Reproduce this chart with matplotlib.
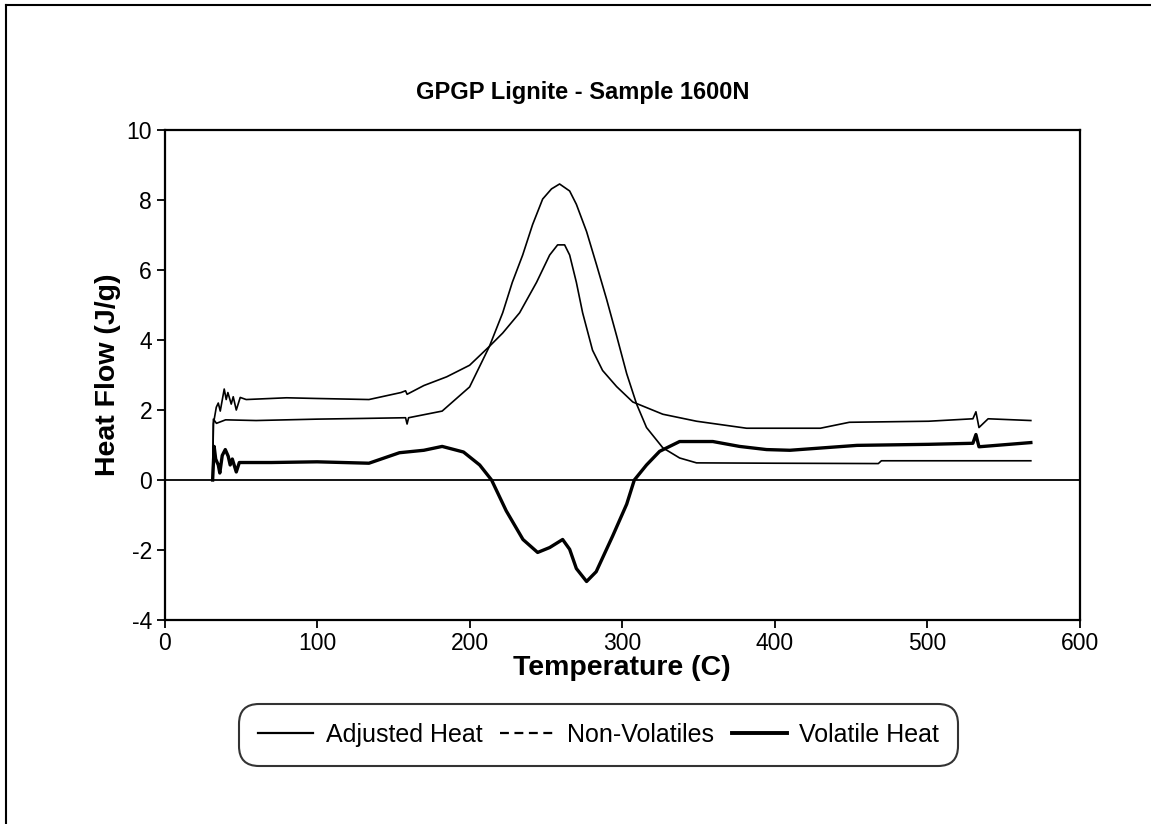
import numpy as np
import matplotlib.pyplot as plt
from matplotlib.lines import Line2D

# temperature (C) / heat flow (J/g)
adj_t = [31.5, 32, 33.9, 35.2, 36.5, 39.1, 40.4, 41.5, 43.7, 45, 47, 49.6, 53.5, 80, 100,
         134, 155, 158, 159, 170, 185, 200, 213, 221.7, 232.8, 243.9, 252.5, 257.7, 262.3,
         265.6, 270, 274.1, 280.6, 287.2, 296.4, 307, 326.7, 348.8, 381.6, 430, 449, 501,
         530, 532, 534, 540, 568]
adj_q = [0, 1.6, 2.08, 2.2, 1.97, 2.6, 2.3, 2.5, 2.17, 2.38, 2.0, 2.36, 2.3, 2.35, 2.33,
         2.3, 2.5, 2.55, 2.45, 2.7, 2.95, 3.28, 3.82, 4.2, 4.78, 5.65, 6.43, 6.72, 6.72,
         6.43, 5.65, 4.78, 3.71, 3.13, 2.67, 2.23, 1.88, 1.68, 1.48, 1.48, 1.65, 1.68,
         1.75, 1.95, 1.5, 1.75, 1.7]

nv_t = [31.5, 32, 34, 40, 60, 100, 130, 158, 159, 160, 182, 200, 213, 221.7, 228, 234.8,
        241.3, 247.9, 253.7, 259, 265.6, 270, 276.7, 283.3, 289.8, 296.4, 303, 309.5,
        316, 326.7, 337.7, 348.8, 400, 468, 470, 530, 568]
nv_q = [0, 1.74, 1.62, 1.72, 1.70, 1.74, 1.76, 1.78, 1.6, 1.78, 1.97, 2.66, 3.82, 4.78,
        5.65, 6.43, 7.3, 8.03, 8.32, 8.46, 8.26, 7.88, 7.1, 6.14, 5.17, 4.12, 3.04, 2.17,
        1.5, 0.92, 0.63, 0.49, 0.48, 0.47, 0.55, 0.55, 0.55]

vol_t = [31.5, 32.5, 33.5, 35.2, 36.2, 37.8, 39.8, 41.7, 43, 44.4, 47, 49, 52.3, 70, 100,
         134, 154, 170, 182, 196, 206.6, 214.4, 224, 235, 244.6, 252.5, 261, 265.6, 270,
         276.7, 283, 293.8, 303, 308, 316, 324.6, 337.7, 359.5, 377, 394.7, 410, 454, 501,
         530, 532, 534, 568]
vol_q = [0, 0.96, 0.6, 0.43, 0.2, 0.7, 0.87, 0.68, 0.43, 0.6, 0.23, 0.5, 0.5, 0.5, 0.52,
         0.48, 0.78, 0.85, 0.96, 0.8, 0.43, 0, -0.88, -1.7, -2.07, -1.93, -1.7, -1.98, -2.53,
         -2.9, -2.62, -1.6, -0.69, 0, 0.43, 0.82, 1.1, 1.1, 0.96, 0.87, 0.85, 0.99, 1.02,
         1.05, 1.3, 0.95, 1.07]

plt.rcParams['font.family'] = ['Liberation Sans', 'DejaVu Sans']
plt.rcParams['axes.unicode_minus'] = False

fig = plt.figure(figsize=(11.51, 8.24), dpi=100)
ax = fig.add_axes([0.143, 0.2476, 0.795, 0.5945])

ax.plot(adj_t, adj_q, color='black', lw=1.2)
ax.plot(nv_t, nv_q, color='black', lw=1.2)
ax.plot(vol_t, vol_q, color='black', lw=2.4)
ax.axhline(0, color='black', lw=1.3)

ax.set_xlim(0, 600)
ax.set_ylim(-4, 10)
ax.set_xticks(range(0, 601, 100))
ax.set_yticks(range(-4, 11, 2))
ax.tick_params(direction='out', length=6, width=1.3, labelsize=16.5, pad=3)
for s in ax.spines.values():
    s.set_linewidth(1.6)

ax.set_xlabel('Temperature (C)', fontsize=20.5, fontweight='bold', labelpad=0)
ax.set_ylabel('Heat Flow (J/g)', fontsize=20.5, fontweight='bold', labelpad=4)
fig.text(0.506, 0.888, 'GPGP Lignite - Sample 1600N', ha='center', va='center',
         fontsize=17, fontweight='bold')

# legend: plotted Non-Volatiles line is solid but the key shows dashes
handles = [Line2D([], [], color='black', lw=1.6),
           Line2D([], [], color='black', lw=1.6, ls=(0, (4, 2.5))),
           Line2D([], [], color='black', lw=2.8)]
leg = fig.legend(handles, ['Adjusted Heat', 'Non-Volatiles', 'Volatile Heat'],
                 loc='center', bbox_to_anchor=(0.52, 0.108), ncol=3, fontsize=18,
                 frameon=True, fancybox=True, borderpad=0.55, handlelength=2.2,
                 handletextpad=0.5, columnspacing=0.7)
leg.get_frame().set_edgecolor('black')
leg.get_frame().set_linewidth(1.5)
leg.get_frame().set_boxstyle('round', pad=0.2, rounding_size=0.8)

# outer frame of the scanned page (top and left edges visible)
fig.add_artist(Line2D([0.005, 0.005], [0, 0.994], color='black', lw=1.5))
fig.add_artist(Line2D([0.005, 1], [0.994, 0.994], color='black', lw=1.5))

fig.savefig('out.png', dpi=100)
